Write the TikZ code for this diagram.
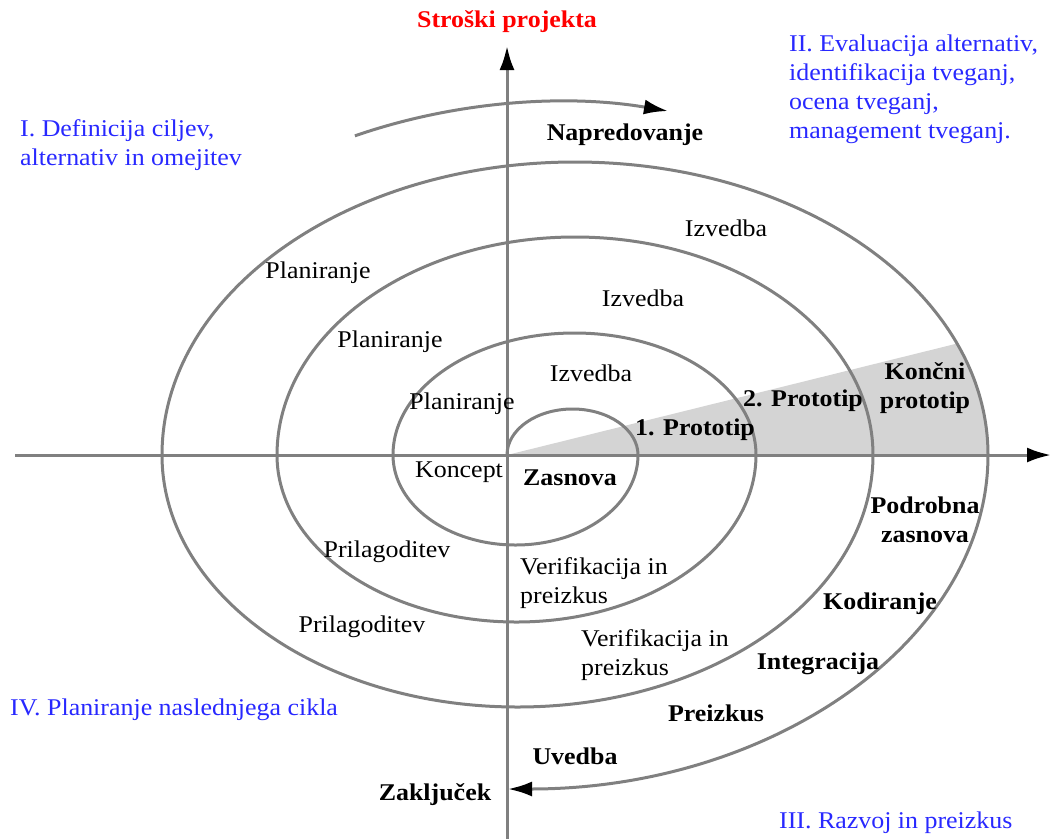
\documentclass[tikz,border=0pt]{standalone}
\usepackage{fontspec}
\setmainfont{Liberation Serif}[FakeStretch=1.08]
\usepackage{tikz}
\usetikzlibrary{arrows.meta}
\definecolor{ringgray}{RGB}{128,128,128}
\definecolor{wedgegray}{RGB}{212,212,212}
\definecolor{noteblue}{RGB}{40,40,255}

\begin{document}
\begin{tikzpicture}[x=1pt,y=1pt,
    ring/.style={draw=ringgray,line width=3pt},
    tip/.style={-{Latex[color=black,length=24pt,width=15pt]}},
    lbl/.style={inner sep=0pt,font=\fontsize{24}{29}\selectfont},
    bl/.style={inner sep=0pt,font=\fontsize{24}{29}\selectfont\bfseries},
    note/.style={lbl,text=noteblue,align=left,anchor=west}]
  \useasboundingbox (0,0) rectangle (1052,-839);
  \coordinate (O) at (507,-455);

  % shaded prototype wedge
  \begin{scope}
    \clip (575,-455) ellipse [x radius=413,y radius=293];
    \fill[wedgegray] (O) -- (1040,-323) -- (1040,-455) -- cycle;
  \end{scope}

  \draw[ring,tip] (507,-839) -- (507,-46);  % Axis
  \draw[ring,tip] (15,-455) -- (1051,-455);

  % spiral of half ellipses
  \draw[ring,tip] (O)
    arc[start angle=180,end angle=0,x radius=65.5,y radius=46]
    arc[start angle=0,end angle=-180,x radius=122.5,y radius=90]
    arc[start angle=180,end angle=0,x radius=181.5,y radius=122]
    arc[start angle=0,end angle=-180,x radius=239.5,y radius=167]
    arc[start angle=180,end angle=0,x radius=298,y radius=218]
    arc[start angle=0,end angle=-180,x radius=355.5,y radius=252]
    arc[start angle=180,end angle=0,x radius=413,y radius=293]
    arc[start angle=0,end angle=-90,x radius=480,y radius=334];

  % progress arrow
  \draw[ring,tip] (560,-455) ++(115.3:480 and 353)
    arc[start angle=115.3,end angle=77,x radius=480,y radius=353];

  \node[bl,text=red] (costs) at (507,-22) {Stroški projekta};
  \node[note] (quadI) at (20,-145.5) {I. Definicija ciljev,\\alternativ in omejitev};
  \node[note] (quadII) at (789,-89) {II. Evaluacija alternativ,\\identifikacija tveganj,\\ocena tveganj,\\management tveganj.};
  \node[note] (quadIII) at (779,-823) {III. Razvoj in preizkus};
  \node[note] (quadIV) at (10,-710) {IV. Planiranje naslednjega cikla};

  \node[bl] (progress) at (625,-135) {Napredovanje};
  \foreach \px/\py [count=\i] in {726/228,643/298,591/373}
    \node[lbl] (izv\i) at (\px,-\py) {Izvedba};
  \foreach \px/\py [count=\i] in {318/273,390/342,462/404}
    \node[lbl] (plan\i) at (\px,-\py) {Planiranje};
  \foreach \px/\py [count=\i] in {387/552,362/627}
    \node[lbl] (adapt\i) at (\px,-\py) {Prilagoditev};
  \foreach \px/\py [count=\i] in {520/583,581/655}
    \node[lbl,align=left,anchor=west] (verif\i) at (\px,-\py) {Verifikacija in\\preizkus};
  \node[lbl] (concept) at (459,-472) {Koncept};

  \node[bl] (design) at (570,-478) {Zasnova};
  \node[bl] (proto1) at (695,-430) {1. Prototip};
  \node[bl] (proto2) at (803,-401) {2. Prototip};
  \node[bl,align=center] (protoN) at (925,-388) {Končni\\prototip};
  \node[bl,align=center] (detail) at (925,-520) {Podrobna\\zasnova};
  \node[bl] (coding) at (880,-604) {Kodiranje};
  \node[bl] (integr) at (818,-664) {Integracija};
  \node[bl] (testing) at (716,-713) {Preizkus};
  \node[bl] (deploy) at (575,-756) {Uvedba};
  \node[bl] (closing) at (435,-795) {Zaključek};
\end{tikzpicture}
\end{document}
